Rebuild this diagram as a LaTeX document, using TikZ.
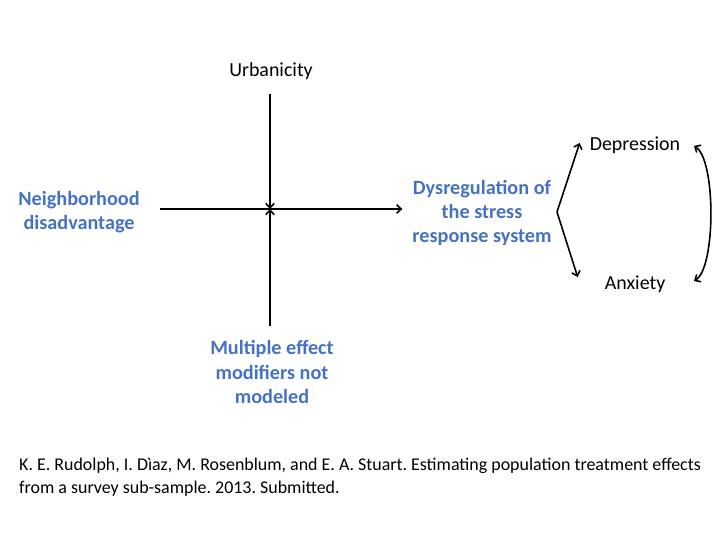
\documentclass[tikz,border=0pt]{standalone}
\usepackage{fontspec}
\setmainfont{Carlito}
\usetikzlibrary{arrows.meta, positioning}
\definecolor{slide_blue}{RGB}{70,114,196}

\begin{document}
\frenchspacing
\begin{tikzpicture}[x=1bp, y=-1bp]
	\tikzset{
		>={Straight Barb[length=4.5pt, width=8.5pt]}, % open arrow heads
		link/.style={line width=1.6pt, black}, % every connector
		factor/.style={align=center, text=slide_blue, font=\fontsize{20.3}{24.5}\selectfont\bfseries, inner sep=2pt}, % blue labels
		outcome/.style={align=center, font=\fontsize{20}{24}\selectfont, inner sep=2pt}, % black labels
	}
	\useasboundingbox (0,0) rectangle (720,540);
	\node[outcome] (urban) at (271,71) {Urbanicity};
	\node[factor] (nbhd) at (79,212) {Neighborhood\\disadvantage};
	\node[factor] (dysreg) at (482,213) {Dysregulation of\\the stress\\response system};
	\node[factor] (modif) at (272,372) {Multiple effect\\modifiers not\\modeled};
	\node[outcome] (depr) at (635,145) {Depression};
	\node[outcome] (anx) at (635,284) {Anxiety};
	\coordinate (cross) at (270,209);
	\coordinate (fork) at (557,212);
	\coordinate (loop_top) at (694,146);
	\coordinate (loop_bot) at (694,281);
	% main path and modifiers
	\draw[link, ->, shorten <=18pt, shorten >=8pt] (nbhd.east |- cross) -- (dysreg.west |- cross);
	\draw[link, ->, shorten <=12pt] (urban.south -| cross) -- (cross);
	\draw[link, ->, shorten <=12pt] (modif.north -| cross) -- (cross);
	% outcomes
	\draw[link, ->] (fork) -- ([xshift=-8pt, yshift=2pt]depr.west);
	\draw[link, ->] (fork) -- ([xshift=-25pt, yshift=7pt]anx.west);
	\draw[link, <->] (loop_bot) .. controls (716,268) and (716,159) .. (loop_top);
	\node[anchor=north west, align=left, font=\fontsize{18}{23}\selectfont, inner sep=0pt] (cite) at (19,458)
		{K. E. Rudolph, I. Dìaz, M. Rosenblum, and E. A. Stuart. Estimating population treatment effects\\
		from a survey sub-sample. 2013. Submitted.};
\end{tikzpicture}
\end{document}
